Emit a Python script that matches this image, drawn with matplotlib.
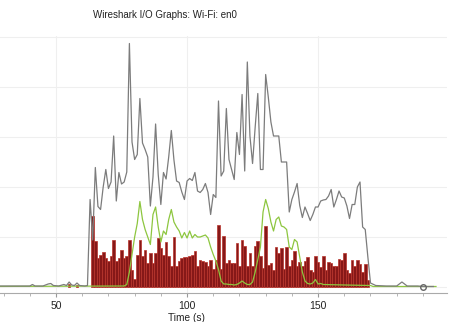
import matplotlib
matplotlib.use('Agg')
import matplotlib.pyplot as plt
from matplotlib.ticker import MultipleLocator

plt.rcParams['font.family'] = ['Liberation Sans', 'DejaVu Sans']

# ---- data ----
title = "Wireshark I/O Graphs: Wi-Fi: en0"
xlabel = "Time (s)"

# all packets (gray line)
gray_t = [20, 30, 40, 41, 42, 45, 46, 47, 48, 49, 51, 53, 54, 55, 56, 57, 58, 59, 61,
          62, 63, 64, 65, 66, 67, 68, 69, 70, 71, 72, 73, 74, 75, 76, 77, 78, 79, 80,
          81, 82, 83, 84, 85, 86, 87, 88, 89, 90, 91, 92, 93, 94, 95, 96, 97, 98, 99,
          100, 101, 102, 103, 104, 105, 106, 107, 108, 109, 110, 111, 112, 113, 114,
          115, 116, 117, 118, 119, 120, 121, 122, 123, 124, 125, 126, 127, 128, 129,
          130, 131, 132, 133, 134, 135, 136, 137, 138, 139, 140, 141, 142, 143, 144,
          145, 146, 147, 148, 149, 150, 151, 152, 153, 154, 155, 156, 157, 158, 159,
          160, 161, 162, 163, 164, 165, 166, 167, 168, 169, 170, 172, 176, 180, 182,
          184, 188, 190, 194]
gray_v = [0.02, 0.02, 0.02, 0.05, 0.02, 0.02, 0.04, 0.06, 0.07, 0.03, 0.02, 0.05, 0.03,
          0.10, 0.04, 0.03, 0.08, 0.03, 0.02,
          0.03, 1.75, 0.94, 2.39, 1.61, 1.55, 2.00, 2.35, 1.97, 2.10, 3.02, 1.72, 2.29,
          2.06, 2.10, 2.30, 4.87, 2.90, 2.55, 2.65, 3.77, 2.88, 2.75, 2.60, 1.62, 2.20,
          3.26, 2.25, 1.65, 2.29, 2.16, 2.60, 3.13, 2.54, 2.12, 2.09, 1.90, 1.75, 2.12,
          2.17, 2.13, 2.29, 1.92, 1.89, 1.95, 2.07, 1.89, 1.45, 1.85, 1.79, 3.72, 2.22,
          2.32, 3.57, 2.55, 2.35, 2.15, 3.09, 2.65, 3.85, 2.32, 4.50, 3.02, 2.47, 3.20,
          3.87, 2.35, 2.35, 4.25, 3.80, 3.30, 3.02, 3.02, 3.02, 2.50, 2.50, 2.50, 1.50,
          1.75, 1.90, 2.07, 1.63, 1.39, 1.60, 1.47, 1.33, 1.45, 1.60, 1.60, 1.72, 1.74,
          1.75, 1.82, 1.95, 1.60, 1.75, 1.92, 1.80, 1.78, 1.62, 1.37, 1.65, 1.65, 2.00,
          2.10, 1.20, 1.15, 0.60, 0.08, 0.03, 0.02, 0.02, 0.10, 0.02, 0.02, 0.01, 0.01]

# filtered traffic (green line)
green_t = [20, 76, 77, 78, 79, 80, 81, 82, 83, 84, 85, 86, 87, 88, 89, 90, 91, 92, 93,
           94, 95, 96, 97, 98, 99, 100, 101, 102, 103, 104, 105, 106, 107, 108, 109,
           110, 111, 112, 113, 114, 115, 116, 117, 118, 119, 120, 121, 122, 123, 124,
           125, 126, 127, 128, 129, 130, 131, 132, 133, 134, 135, 136, 137, 138, 139,
           140, 141, 142, 143, 144, 145, 146, 147, 148, 149, 150, 151, 152, 160, 170,
           171, 195]
green_v = [0.01, 0.02, 0.05, 0.30, 0.65, 1.00, 1.27, 1.71, 1.35, 1.15, 1.00, 0.85, 1.45,
           1.60, 1.20, 0.90, 1.12, 1.05, 1.35, 1.55, 1.30, 1.20, 1.12, 0.98, 1.09, 0.98,
           1.12, 0.98, 1.05, 1.00, 1.00, 1.02, 1.04, 0.98, 0.80, 0.65, 0.52, 0.35, 0.12,
           0.06, 0.06, 0.05, 0.05, 0.04, 0.05, 0.08, 0.12, 0.08, 0.05, 0.05, 0.10, 0.30,
           0.55, 0.80, 1.50, 1.75, 1.57, 1.30, 1.12, 1.35, 1.40, 1.22, 1.20, 1.15, 0.80,
           0.75, 0.95, 0.90, 0.60, 0.30, 0.12, 0.07, 0.06, 0.08, 0.15, 0.06, 0.07, 0.05,
           0.04, 0.03, 0.01, 0.01]

# bar series (dark red)
bar_t = [55, 58] + list(range(64, 170))
bar_v = [0.07, 0.05,
         1.42, 0.92, 0.59, 0.65, 0.70, 0.59, 0.52, 0.62, 0.95, 0.52, 0.59, 0.75, 0.59,
         0.62, 0.95, 0.35, 0.17, 0.65, 0.95, 0.62, 0.75, 0.49, 0.69, 0.49, 0.69, 0.99,
         0.79, 0.65, 0.90, 0.62, 0.42, 1.00, 0.42, 0.52, 0.59, 0.60, 0.61, 0.62, 0.65,
         0.72, 0.42, 0.55, 0.52, 0.50, 0.42, 0.54, 0.37, 0.55, 1.25, 0.37, 1.02, 0.49,
         0.55, 0.49, 0.49, 0.89, 0.43, 0.95, 0.82, 0.43, 0.69, 0.43, 0.82, 0.92, 0.62,
         0.39, 1.23, 0.45, 0.48, 0.35, 0.81, 0.69, 0.78, 0.37, 0.81, 0.43, 0.55, 0.72,
         0.43, 0.50, 0.43, 0.52, 0.60, 0.35, 0.30, 0.62, 0.50, 0.40, 0.63, 0.35, 0.50,
         0.49, 0.43, 0.42, 0.57, 0.55, 0.69, 0.35, 0.29, 0.55, 0.42, 0.55, 0.47, 0.30,
         0.47, 0.15]

marker_t = [190]
marker_v = [0.0]

xticks = [50, 100, 150]
yticks = [0, 1, 2, 3, 4, 5]

# ---- figure ----
W, H = 454, 322
fig = plt.figure(figsize=(W / 100, H / 100), dpi=100)
ax = fig.add_axes([-75 / W, 29 / H, 522 / W, 257 / H])
ax.set_xlim(0, 199.2)
ax.set_ylim(-0.12, 5.02)

ax.bar(bar_t, bar_v, width=1.0, color='#861818', edgecolor='#b8322a',
       linewidth=0.5, zorder=2)
ax.plot(green_t, green_v, color='#8dc63f', lw=0.9, zorder=3)
ax.plot(gray_t, gray_v, color='#7c7c7c', lw=0.9, zorder=4)
ax.plot(marker_t, marker_v, 'o', mfc='none', mec='#666666', mew=1.0, ms=4, zorder=5)

ax.set_xticks(xticks)
ax.xaxis.set_minor_locator(MultipleLocator(10))
ax.set_yticks(yticks)
ax.grid(True, which='major', color='#efefef', lw=0.8, zorder=0)
ax.set_axisbelow(True)

for s in ['top', 'right', 'left']:
    ax.spines[s].set_visible(False)
ax.spines['bottom'].set_color('#aaaaaa')
ax.spines['bottom'].set_linewidth(0.8)

ax.tick_params(axis='x', which='major', length=3, color='#999999', labelsize=7.5,
               labelcolor='#222222', pad=3)
ax.tick_params(axis='x', which='minor', length=2, color='#aaaaaa')
ax.tick_params(axis='y', length=0, labelleft=False)

ax.set_xlabel(xlabel, fontsize=7.3, color='#222222', labelpad=1)
fig.text(165 / W, 1 - 15 / H, title, ha='center', va='center', fontsize=7,
         color='#222222')

fig.savefig('out.png', dpi=100)
